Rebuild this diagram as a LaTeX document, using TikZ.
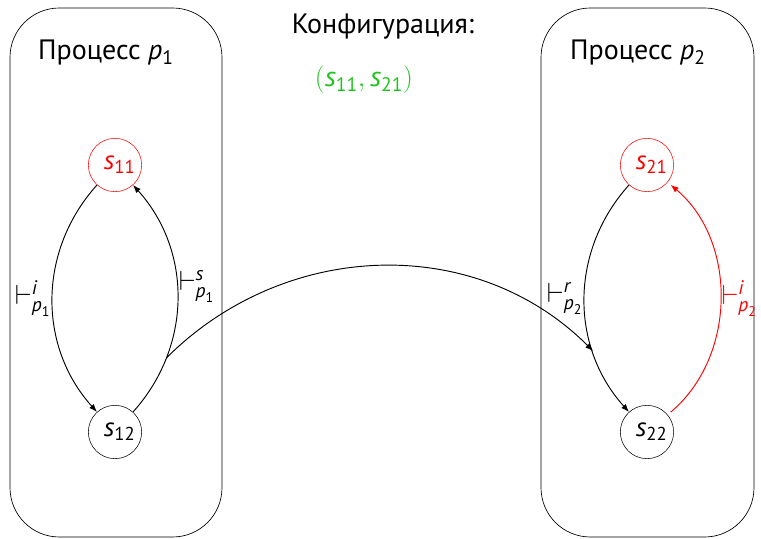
\documentclass[tikz,border=0pt]{standalone}
\usepackage{fontspec}
\setmainfont{PT Sans}
\usepackage{amsmath}
\usetikzlibrary{positioning,arrows.meta}
\definecolor{Green}{HTML}{1EC41E}
\newcommand{\sname}[1]{\hspace{0.35em}$\textit{s}_{\text{#1}}$}
\newcommand{\turn}[2]{$\vdash^{\textit{#1}}_{\textit{p}_{\text{#2}}}$}

\begin{document}
\begin{tikzpicture}[
  x=0.75pt, y=0.75pt,
  proc/.style={draw, rounded corners=37pt, line width=0.5pt},
  state/.style={
    draw, circle,
    minimum size=40pt,
    inner sep=0pt,
    line width=0.4pt,
    font=\fontsize{20}{24}\selectfont
  },
  title/.style={font=\fontsize{21}{25}\selectfont},
  lbl/.style={font=\fontsize{21}{25}\selectfont, inner sep=1pt},
  arr/.style={-{Latex[length=6pt,width=4.5pt]}, line width=0.7pt}
]
\useasboundingbox (0,0) rectangle (761,539);

% processes
\draw[proc] (10,2) rectangle (222,531);
\draw[proc] (541,2) rectangle (754,531);
\node[title] (t1) at (106,486) {Процесс \textit{p}$_{\text{1}}$};
\node[title] (t2) at (638,486) {Процесс \textit{p}$_{\text{2}}$};

% configuration
\node[title] (conf) at (383,512) {Конфигурация:};
\node[title, text=Green] (cval) at (364,459) {$(\textit{s}_{\text{11}}, \textit{s}_{\text{21}})$};

% states
\node[state, draw=red, text=red] (s11) at (115,374) {\sname{11}};
\node[state] (s12) at (115,107) {\sname{12}};
\node[state, draw=red, text=red] (s21) at (647,374) {\sname{21}};
\node[state] (s22) at (647,107) {\sname{22}};

% transitions
\draw[arr] (s11) to[bend right=42] node[lbl, left] {\turn{i}{1}} (s12);
\draw[arr] (s12) to[bend right=42] coordinate[pos=0.25] (c1) node[lbl, right, pos=0.55] {\turn{s}{1}} (s11);
\draw[arr] (s21) to[bend right=42] coordinate[pos=0.72] (c2) node[lbl, left] {\turn{r}{2}} (s22);
\draw[arr, red, shorten >=3pt, shorten <=3pt] (s22) to[bend right=50] node[lbl, right] {\turn{i}{2}} (s21);
\draw[arr] (c1) to[out=45, in=135] (c2);
\end{tikzpicture}
\end{document}
